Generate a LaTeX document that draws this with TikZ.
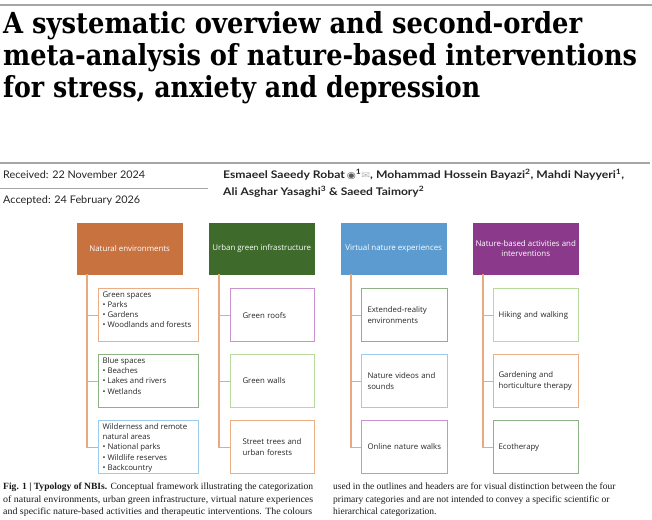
\documentclass[tikz,border=0pt]{standalone}
\usepackage{fontspec}
\usepackage{graphicx}
\usetikzlibrary{positioning}
\newfontfamily\titlefont{DejaVu Serif}
\newfontfamily\boxfont{Open Sans}
\newfontfamily\metafont{Lato}
\newfontfamily\capfont{Liberation Serif}
\newfontfamily\symfont{DejaVu Sans}
\definecolor{hdorange}{HTML}{C87240}
\definecolor{hdgreen}{HTML}{3E6B2C}
\definecolor{hdblue}{HTML}{5B9BD0}
\definecolor{hdpurple}{HTML}{8B3A8B}
\definecolor{bxorange}{HTML}{EBAF86}
\definecolor{bxgreen}{HTML}{8DB385}
\definecolor{bxlight}{HTML}{B7D89F}
\definecolor{bxblue}{HTML}{9DCBEB}
\definecolor{bxpurple}{HTML}{C993D0}
\definecolor{linkorange}{HTML}{E8A97E}
\definecolor{rulegray}{HTML}{A6A6A6}
\newcommand{\toplist}[1]{\parbox[c][47pt][t]{92pt}{\raggedright #1}}
\newcommand{\orcidmark}{{\symfont\color{black!65}\fontsize{9}{9}\selectfont ◉}}
\newcommand{\mailmark}{{\symfont\color{black!30}\fontsize{9}{9}\selectfont ✉}}
\tikzset{
  header/.style={fill=#1, draw=#1, minimum width=105pt, minimum height=51pt,
    anchor=north west, text=white, align=center, inner sep=2pt,
    font=\boxfont\fontsize{7.9}{9.6}\selectfont},
  leaf/.style={draw=#1, line width=1.1pt, fill=white, minimum height=53pt,
    anchor=north west, text=black!85, font=\boxfont\fontsize{7.8}{10.2}\selectfont},
  branch/.style={draw=linkorange, line width=1.1pt},
  rule/.style={draw=rulegray, line width=1.5pt},
  meta/.style={anchor=base west, inner sep=0pt, text=black!85,
    font=\metafont\fontsize{10.5}{12}\selectfont},
  capline/.style={anchor=base west, inner sep=0pt, text=black!90,
    font=\capfont\fontsize{9.5}{11}\selectfont}
}

\begin{document}
\begin{tikzpicture}[x=1pt,y=-1pt]
  \useasboundingbox[fill=white] (0,0) rectangle (652,519);

  % title
  \draw[rule] (0,5) -- (652,5);
  \node[anchor=base west, inner sep=0pt, font=\titlefont\bfseries\fontsize{29}{29}\selectfont] (ttl1) at (3,34)
    {\resizebox{579pt}{\height}{A systematic overview and second-order}};
  \node[anchor=base west, inner sep=0pt, font=\titlefont\bfseries\fontsize{29}{29}\selectfont] (ttl2) at (3,65.5)
    {\resizebox{634pt}{\height}{meta-analysis of nature-based interventions}};
  \node[anchor=base west, inner sep=0pt, font=\titlefont\bfseries\fontsize{29}{29}\selectfont] (ttl3) at (3,97)
    {\resizebox{477pt}{\height}{for stress, anxiety and depression}};

  % dates and authors
  \draw[rule] (0,163) -- (650,163);
  \draw[draw=rulegray, line width=1pt] (0,188) -- (208,188);
  \node[meta] (rcv) at (3,178) {\resizebox{142pt}{\height}{Received: 22 November 2024}};
  \node[meta] (acc) at (3,203) {\resizebox{137pt}{\height}{Accepted: 24 February 2026}};
  \node[meta, font=\metafont\bfseries\fontsize{10.5}{12}\selectfont] (au1) at (223,178)
    {\resizebox{401pt}{\height}{Esmaeel Saeedy Robat\,\orcidmark\textsuperscript{1}\mailmark, Mohammad Hossein Bayazi\textsuperscript{2}, Mahdi Nayyeri\textsuperscript{1},}};
  \node[meta, font=\metafont\bfseries\fontsize{10.5}{12}\selectfont] (au2) at (223,195)
    {\resizebox{201pt}{\height}{Ali Asghar Yasaghi\textsuperscript{3} \& Saeed Taimory\textsuperscript{2}}};

  % headers
  \node[header=hdorange] (h1) at (77,223) {Natural environments};
  \node[header=hdgreen] (h2) at (209,223) {Urban green infrastructure};
  \node[header=hdblue] (h3) at (341,223) {Virtual nature experiences};
  \node[header=hdpurple] (h4) at (473,223) {Nature-based activities and\\interventions};

  % natural environments
  \node[leaf=bxorange, inner xsep=4pt, inner ysep=3pt] (l11) at (98,288)
    {\toplist{Green spaces\\\textbullet{} Parks\\\textbullet{} Gardens\\\textbullet{} Woodlands and forests}};
  \node[leaf=bxgreen, inner xsep=4pt, inner ysep=3pt] (l12) at (98,354)
    {\toplist{Blue spaces\\\textbullet{} Beaches\\\textbullet{} Lakes and rivers\\\textbullet{} Wetlands}};
  \node[leaf=bxblue, inner xsep=4pt, inner ysep=3pt] (l13) at (98,420)
    {\toplist{Wilderness and remote\\natural areas\\\textbullet{} National parks\\\textbullet{} Wildlife reserves\\\textbullet{} Backcountry}};

  % urban green infrastructure
  \node[leaf=bxpurple, text width=60pt, inner xsep=12pt, align=left] (l21) at (230,288) {Green roofs};
  \node[leaf=bxlight, text width=60pt, inner xsep=12pt, align=left] (l22) at (230,354) {Green walls};
  \node[leaf=bxorange, text width=60pt, inner xsep=12pt, align=left] (l23) at (230,420) {Street trees and\\urban forests};

  % virtual nature experiences
  \node[leaf=bxgreen, text width=74pt, inner xsep=6pt, align=left] (l31) at (361,288) {Extended-reality\\environments};
  \node[leaf=bxblue, text width=74pt, inner xsep=6pt, align=left] (l32) at (361,354) {Nature videos and\\sounds};
  \node[leaf=bxpurple, text width=74pt, inner xsep=6pt, align=left] (l33) at (361,420) {Online nature walks};

  % nature-based activities
  \node[leaf=bxlight, text width=75pt, inner xsep=5pt, align=left] (l41) at (493,288) {Hiking and walking};
  \node[leaf=bxorange, text width=75pt, inner xsep=5pt, align=left] (l42) at (493,354) {Gardening and\\horticulture therapy};
  \node[leaf=bxgreen, text width=75pt, inner xsep=5pt, align=left] (l43) at (493,420) {Ecotherapy};

  \foreach \c in {1,2,3,4}
  {
    \coordinate (t\c) at ([xshift=10pt]h\c.south west);
    \draw[branch] (t\c) |- (l\c3.west);
    \draw[branch] (l\c1.west) -- (l\c1.west -| t\c);
    \draw[branch] (l\c2.west) -- (l\c2.west -| t\c);
  }

  % caption
  \node[capline] (cp1) at (3,489) {\resizebox{310pt}{\height}{\textbf{Fig. 1 | Typology of NBIs.} Conceptual framework illustrating the categorization}};
  \node[capline] (cp2) at (3,502) {\resizebox{310pt}{\height}{of natural environments, urban green infrastructure, virtual nature experiences}};
  \node[capline] (cp3) at (3,514) {\resizebox{309pt}{\height}{and specific nature-based activities and therapeutic interventions. The colours}};
  \node[capline] (cp4) at (333,489) {used in the outlines and headers are for visual distinction between the four};
  \node[capline] (cp5) at (333,502) {primary categories and are not intended to convey a specific scientific or};
  \node[capline] (cp6) at (333,514) {hierarchical categorization.};
\end{tikzpicture}
\end{document}
